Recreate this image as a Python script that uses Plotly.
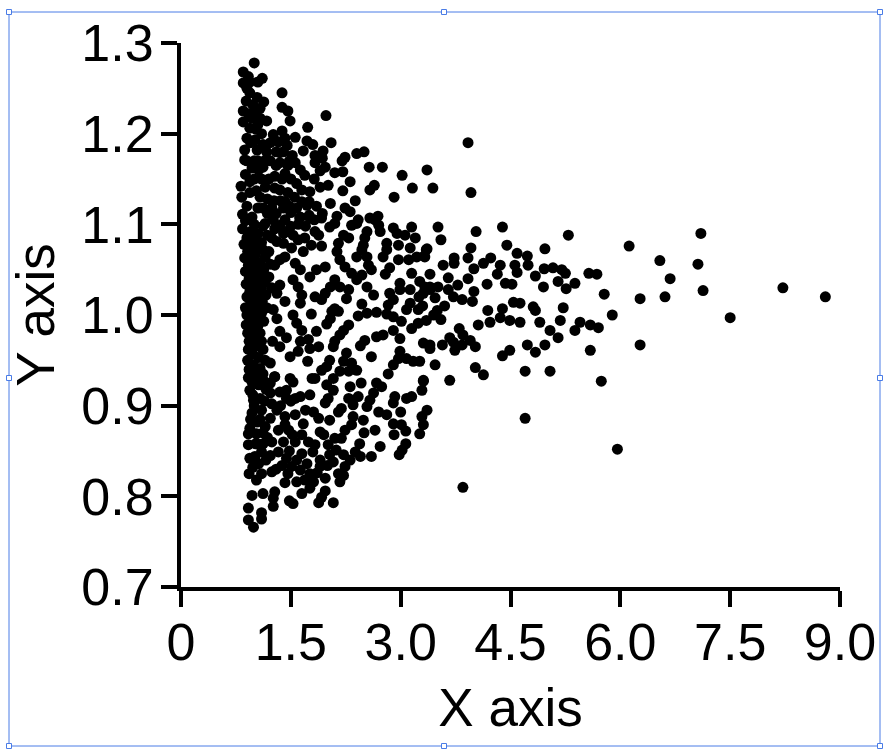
import plotly.graph_objects as go

outliers = [(8.80,1.020),(8.22,1.030),(7.50,0.997),(7.13,1.027),(7.10,1.090),(7.06,1.056),(6.68,1.040),(6.61,1.020),
(6.54,1.060),(6.27,1.018),(6.12,1.076),(6.27,0.967),(5.89,1.000),(5.78,1.023),(5.74,0.927),(5.96,0.852),(3.85,0.810),
(4.70,0.886),(3.92,1.190),(3.96,1.135),(3.36,1.160),(3.44,1.140),(3.16,1.140)]

tail_upper = [(3.51,1.097),(4.03,1.092),(4.39,1.097),(5.29,1.088),(3.55,1.083),(4.45,1.077),(4.97,1.073),(3.96,1.074),
(4.59,1.068),(4.73,1.065),(3.36,1.073),(3.32,1.065),(3.92,1.063),(3.73,1.063),(3.73,1.057),(4.23,1.063),(4.13,1.057),
(3.58,1.055),(4.36,1.055),(4.56,1.055),(4.74,1.055),(4.00,1.051),(4.96,1.051),(5.08,1.052),(5.20,1.050),(5.25,1.046),
(5.57,1.046),(5.68,1.045),(3.40,1.045),(4.32,1.045),(4.59,1.047),(4.84,1.043),(3.65,1.041),(3.92,1.040),(4.18,1.034),
(4.43,1.035),(4.52,1.034),(5.15,1.037),(5.38,1.035),(3.78,1.033),(4.95,1.031),(5.26,1.029),(4.00,1.026),(3.40,1.031),
(3.51,1.031),(3.65,1.028),(3.31,1.024),(3.47,1.019),(3.72,1.020),(3.84,1.017),(3.98,1.015),(4.54,1.014),(4.63,1.013),
(4.81,1.009),(5.22,1.008),(4.19,1.005),(4.39,1.007)]

tail_lower = [(4.36,0.997),(4.49,0.994),(4.63,0.992),(4.06,0.989),(4.22,0.992),(3.95,0.972),(4.02,0.965),(3.84,0.967),
(3.74,0.961),(3.67,0.975),(3.85,0.978),(3.57,0.967),(3.40,0.967),(3.47,0.945),(3.67,0.928),(4.02,0.942),(4.13,0.934),
(4.39,0.955),(4.49,0.961),(4.73,0.967),(4.84,0.959),(4.70,0.938),(5.04,0.938),(5.15,0.975),(5.38,0.983),(5.59,0.989),
(5.70,0.986),(5.59,0.961),(5.04,0.983),(4.90,0.992),(4.84,1.005),(5.18,0.994),(4.97,0.967),(5.45,0.992),(3.50,1.005),
(3.60,1.010),(3.30,1.010),(3.25,1.020),(3.45,1.000),(3.55,0.995),(3.72,0.970),(3.80,0.985)]

upper_band = [(1.00,1.278),(0.85,1.268),(0.92,1.263),(1.11,1.261),(1.05,1.257),(0.85,1.256),(0.94,1.257),(0.90,1.250),
(1.38,1.245),(0.94,1.245),(1.04,1.240),(0.89,1.236),(1.13,1.235),(1.38,1.229),(1.46,1.225),(0.98,1.232),(0.85,1.225),
(1.08,1.228),(1.98,1.220),(1.49,1.214),(1.17,1.214),(0.85,1.213),(0.97,1.217),(1.08,1.217),(0.94,1.206),(1.05,1.210),
(1.73,1.207),(1.38,1.203),(1.26,1.199),(1.56,1.196),(1.72,1.192),(2.05,1.190),(1.80,1.188),(0.90,1.195),(1.01,1.193),
(1.42,1.195),(1.33,1.191),(1.12,1.188),(0.87,1.182),(1.67,1.181),(1.94,1.181),(2.50,1.180),(2.40,1.178),(2.24,1.174),
(2.20,1.170),(1.83,1.176),(1.93,1.173),(1.52,1.176),(1.35,1.179),(1.04,1.182),(1.17,1.180),(0.87,1.171),(2.57,1.163),
(2.75,1.163),(3.02,1.154),(1.83,1.168),(1.97,1.163),(1.90,1.159),(2.21,1.158),(2.10,1.157),(1.35,1.168),(1.46,1.165),
(0.97,1.162),(1.12,1.163),(1.28,1.153),(1.63,1.160),(1.69,1.154),(2.31,1.147),(2.64,1.143),(2.58,1.138),(2.91,1.130),
(2.21,1.137),(2.01,1.143),(1.90,1.141),(1.76,1.136),(1.65,1.138),(1.46,1.135),(1.35,1.138),(0.82,1.142),(0.94,1.147),
(1.15,1.141),(0.83,1.130),(0.94,1.135),(1.08,1.130),(1.27,1.126),(2.38,1.126),(2.04,1.123),(1.65,1.125),(1.72,1.121),
(2.24,1.118),(2.31,1.114),(1.93,1.112),(1.75,1.110),(1.63,1.108),(2.13,1.109),(2.69,1.109),(2.58,1.107),(2.42,1.105),
(1.40,1.118),(1.50,1.113),(1.30,1.112),(1.05,1.118),(0.90,1.120),(0.84,1.111),(1.18,1.112),(0.97,1.108),(1.38,1.150),
(1.50,1.150),(1.42,1.125),(1.55,1.130),(1.00,1.150),(1.22,1.170),(1.30,1.165),(1.40,1.180),(1.02,1.205),(0.92,1.222),
(1.02,1.225),(0.95,1.190),(1.10,1.200),(0.90,1.170),(1.05,1.170)]

upper_fill = [(1.22,1.190),(1.30,1.180),(1.45,1.187),(1.48,1.170),(1.42,1.156),(1.56,1.168),(1.58,1.145),(1.28,1.140),
(1.20,1.150),(1.10,1.150),(1.18,1.128),(1.36,1.126),(1.48,1.120),(1.58,1.118),(1.12,1.118),(1.24,1.118),(1.60,1.100),
(1.50,1.098),(1.40,1.090),(1.28,1.095),(1.70,1.098),(1.82,1.105),(1.75,1.125),(1.85,1.120),(1.82,1.150),(1.03,1.137),
(1.14,1.170),(1.00,1.170),(0.88,1.155),(1.06,1.160)]

middle_band = [(3.15,1.097),(2.90,1.096),(2.95,1.090),(3.06,1.088),(3.20,1.085),(2.40,1.101),(2.33,1.099),(2.65,1.105),
(2.70,1.099),(2.72,1.092),(2.54,1.092),(2.51,1.085),(2.49,1.077),(2.47,1.072),(2.40,1.064),(2.22,1.088),(2.29,1.085),
(2.15,1.079),(2.13,1.070),(2.17,1.061),(2.24,1.053),(2.33,1.046),(2.40,1.039),(2.47,1.044),(2.56,1.055),(2.60,1.050),
(2.54,1.064),(2.81,1.079),(2.81,1.072),(2.76,1.064),(2.97,1.077),(3.13,1.074),(3.35,1.072),(3.33,1.064),(3.22,1.064),
(3.11,1.061),(2.97,1.061),(2.85,1.052),(2.79,1.045),(3.15,1.046),(2.99,1.035),(3.26,1.037),(3.33,1.031),(3.40,1.028),
(3.13,1.028),(2.99,1.028),(2.85,1.024),(2.90,1.017),(2.83,1.011),(3.13,1.013),(3.24,1.006),(3.08,1.006),(2.54,1.031),
(2.63,1.022),(2.47,1.012),(2.26,1.018),(2.29,1.028),(2.10,1.039),(2.17,1.031),(2.04,1.031),(1.97,1.024),(1.92,1.017),
(1.83,1.020),(1.97,1.053),(1.85,1.050),(1.76,1.042),(1.53,1.039),(1.60,1.031),(1.65,1.022),(1.63,1.013),(1.42,1.015),
(1.26,1.006),(1.31,0.996),(1.53,1.000),(1.58,0.991),(1.65,0.983),(1.78,1.001),(2.10,1.007),(2.15,1.004),(2.06,1.004),
(2.04,0.996),(1.99,0.990),(2.42,0.999),(2.54,1.002),(2.67,1.003),(2.81,1.001),(2.90,0.998),(3.01,0.993),(3.15,0.985),
(3.24,0.991),(3.35,0.994),(1.85,0.982),(2.29,0.989),(2.22,0.983),(2.17,0.978),(2.10,0.971),(2.08,0.965),(1.35,0.982),
(1.44,0.975),(1.25,0.971),(1.35,0.965),(2.51,0.972),(2.45,0.966),(2.26,0.958),(2.22,0.949),(2.33,0.947),(2.60,0.954),
(2.67,0.976),(2.76,0.978),(2.90,0.983),(2.99,0.974),(3.31,0.969),(3.40,0.963),(2.99,0.960),(2.97,0.952),(2.90,0.945),
(2.83,0.935),(3.08,0.952),(3.26,0.949),(3.17,0.949),(3.31,0.928),(1.74,0.973),(1.63,0.971),(1.88,0.965),(1.76,0.963),
(1.60,0.960),(1.49,0.954),(1.73,0.949),(2.03,0.950),(1.99,0.943),(1.92,0.939),(2.17,0.938),(2.29,0.938),(2.40,0.939),
(2.08,0.930),(1.28,0.932),(1.49,0.930),(1.79,0.930),(1.22,0.947),(1.12,0.928),(1.62,1.107),(1.76,1.107),(1.92,1.107),
(2.03,1.097),(2.10,1.101),(1.83,1.092),(1.88,1.088),(1.92,1.076),(1.78,1.077),(1.67,1.070),(1.60,1.083),(1.69,1.085),
(1.53,1.088),(1.44,1.092),(1.35,1.099),(1.42,1.105),(1.26,1.105),(1.15,1.101),(1.51,1.074),(1.40,1.079),(1.31,1.081),
(1.24,1.085),(1.42,1.064),(1.56,1.057),(1.63,1.050),(1.12,1.072),(1.35,1.061),(1.28,1.055),(1.35,1.033),(1.31,1.024)]

lower_band = [(3.31,0.927),(3.29,0.917),(3.15,0.910),(3.08,0.908),(2.92,0.910),(2.90,0.903),(3.36,0.895),(3.29,0.888),
(3.26,0.869),(3.31,0.879),(3.00,0.893),(2.70,0.893),(2.81,0.890),(2.90,0.880),(3.01,0.879),(3.07,0.872),(2.91,0.868),
(3.07,0.858),(3.02,0.851),(2.98,0.846),(2.65,0.873),(2.72,0.855),(2.60,0.844),(2.67,0.925),(2.74,0.921),(2.63,0.914),
(2.58,0.906),(2.54,0.899),(2.49,0.884),(2.35,0.888),(2.33,0.879),(2.24,0.873),(2.35,0.901),(2.29,0.908),(2.19,0.897),
(2.15,0.893),(2.03,0.884),(2.31,0.921),(2.08,0.917),(1.99,0.923),(1.97,0.903),(2.01,0.908),(1.81,0.893),(1.90,0.871),
(2.19,0.864),(2.10,0.864),(2.01,0.857),(1.83,0.857),(1.80,0.849),(2.38,0.849),(2.45,0.844),(2.31,0.840),(2.22,0.846),
(2.03,0.846),(2.24,0.833),(2.15,0.825),(2.22,0.823),(2.17,0.816),(1.90,0.840),(1.90,0.833),(1.97,0.820),(1.81,0.816),
(1.69,0.818),(1.58,0.816),(1.42,0.815),(1.76,0.809),(1.65,0.803),(1.97,0.806),(1.92,0.799),(1.88,0.793),(2.08,0.793),
(1.53,0.792),(1.48,0.795),(1.28,0.805),(1.26,0.798),(1.26,0.789),(1.12,0.803),(0.97,0.801),(0.92,0.787),(1.10,0.782),
(1.10,0.775),(0.92,0.774),(0.99,0.766),(0.93,0.825),(1.10,0.825),(1.03,0.818),(1.24,0.827),(1.56,0.860),(1.65,0.847),
(1.72,0.836),(1.63,0.829),(1.51,0.833),(1.38,0.834),(1.33,0.849),(1.44,0.842),(1.24,0.860),(1.12,0.858),(1.33,0.873),
(1.47,0.873),(1.42,0.879),(1.65,0.868),(1.67,0.880),(1.56,0.890),(1.42,0.888),(1.31,0.895),(1.22,0.886),(1.15,0.877),
(1.10,0.895),(0.97,0.892),(0.94,0.875),(0.92,0.869),(1.03,0.869),(0.92,0.857),(1.01,0.844),(0.94,0.842),(1.06,0.836),
(1.10,0.849),(1.22,0.914),(1.35,0.915),(1.44,0.917),(1.44,0.908),(1.63,0.910),(1.76,0.912),(1.53,0.926),(1.83,0.930),
(1.28,0.932),(0.97,0.926),(1.06,0.923),(0.99,0.906),(1.08,0.908),(0.94,0.917),(1.15,0.926)]

lower_fill = [(1.04,0.858),(1.16,0.840),(1.22,0.845),(0.98,0.832),(1.18,0.865),(1.04,0.882),(1.14,0.905),(1.24,0.902),
(1.16,0.918),(1.36,0.900),(1.50,0.905),(1.56,0.908),(1.70,0.895),(1.52,0.868),(1.40,0.860),(1.48,0.850),(1.58,0.840),
(1.46,0.825),(1.30,0.830),(1.74,0.860),(1.76,0.825),(1.86,0.826),(2.00,0.834),(2.08,0.838),(2.12,0.851),(1.95,0.868),
(1.88,0.886),(2.44,0.858),(2.50,0.870),(2.42,0.910),(2.46,0.925)]

left_band = [(0.88,1.104),(1.00,1.100),(1.12,1.098),(0.84,1.095),(0.95,1.092),(1.05,1.090),(1.18,1.088),(0.90,1.085),
(1.00,1.082),(1.10,1.080),(0.86,1.078),(0.96,1.075),(1.06,1.072),(1.20,1.070),(0.91,1.070),(1.01,1.066),(1.15,1.064),
(0.87,1.063),(0.97,1.060),(1.08,1.058),(1.22,1.056),(0.92,1.055),(1.03,1.052),(1.13,1.050),(0.88,1.048),(0.98,1.046),
(1.09,1.043),(1.20,1.042),(0.93,1.040),(1.04,1.038),(1.15,1.036),(0.89,1.034),(0.99,1.031),(1.10,1.029),(1.24,1.030),
(0.94,1.026),(1.05,1.024),(1.16,1.022),(0.90,1.020),(1.00,1.018),(1.11,1.015),(0.95,1.012),(1.06,1.010),(0.88,1.008),
(1.17,1.008),(0.99,1.004),(1.10,1.002),(0.90,1.000),(1.03,0.997),(0.95,0.993),(1.13,0.993),(0.89,0.989),(1.05,0.988),
(0.98,0.984),(0.91,0.980),(1.08,0.980),(1.00,0.975),(0.93,0.971),(1.10,0.971),(1.03,0.966),(0.92,0.962),(1.12,0.962),
(0.98,0.957),(1.06,0.953),(0.91,0.950),(1.15,0.950),(0.99,0.945),(0.93,0.940),(1.08,0.941),(1.01,0.935),(0.92,0.931),
(1.12,0.935),(1.05,0.929),(1.22,0.925),(0.98,0.912),(1.00,0.900),(0.95,0.885),(1.08,0.885),(1.02,0.858),(1.12,0.870)]

groups = [outliers, tail_upper, tail_lower, upper_band, upper_fill, middle_band, lower_band, lower_fill, left_band]
x_values = [p[0] for g in groups for p in g]
y_values = [p[1] for g in groups for p in g]

x_ticks = [0, 1.5, 3, 4.5, 6, 7.5, 9]
x_labels = ["0", "1.5", "3.0", "4.5", "6.0", "7.5", "9.0"]
y_ticks = [0.7, 0.8, 0.9, 1.0, 1.1, 1.2, 1.3]
y_labels = ["0.7", "0.8", "0.9", "1.0", "1.1", "1.2", "1.3"]

W, H = 889, 752
L, T, PW, PH = 181, 43, 659, 544
BLUE = "#4a7ce6"
FONT = "Liberation Sans"

def px(v): return (v - L) / PW
def py(v): return 1 - (v - T) / PH

shapes = [dict(type="rect", xref="paper", yref="paper", x0=px(9), x1=px(880), y0=py(12), y1=py(746),
               line=dict(color=BLUE, width=1), fillcolor="rgba(0,0,0,0)", layer="below")]
for hx in (9, 444, 880):
    for hy in (12, 378, 746):
        if hx == 444 and hy == 378:
            continue
        shapes.append(dict(type="rect", xref="paper", yref="paper", x0=px(hx - 2.5), x1=px(hx + 2.5),
                           y0=py(hy - 2.5), y1=py(hy + 2.5), line=dict(color=BLUE, width=1), fillcolor="white"))

fig = go.Figure(go.Scatter(x=x_values, y=y_values, mode="markers",
                           marker=dict(color="black", size=11, line=dict(width=0)), cliponaxis=False))
axis = dict(showgrid=False, zeroline=False, showline=True, linecolor="black", linewidth=4,
            ticks="outside", ticklen=16, tickwidth=3.5, tickcolor="black",
            tickfont=dict(family=FONT, size=52, color="black"))
fig.update_xaxes(range=[0, 9], tickmode="array", tickvals=x_ticks, ticktext=x_labels, ticklabelstandoff=-9,
                 title=dict(text="X axis", font=dict(family=FONT, size=53, color="black"), standoff=19), **axis)
fig.update_yaxes(range=[0.7, 1.3], tickmode="array", tickvals=y_ticks, ticktext=y_labels, ticklabelstandoff=-3,
                 title=dict(text="Y axis", font=dict(family=FONT, size=53, color="black"), standoff=11), **axis)
fig.update_layout(width=W, height=H, margin=dict(l=L, t=T, r=W - L - PW, b=H - T - PH, autoexpand=False),
                  paper_bgcolor="white", plot_bgcolor="white", showlegend=False, shapes=shapes)
fig.write_html("out.html", config=dict(displayModeBar=False),
               post_script="document.body.style.margin='0';document.documentElement.style.overflow='hidden';")
